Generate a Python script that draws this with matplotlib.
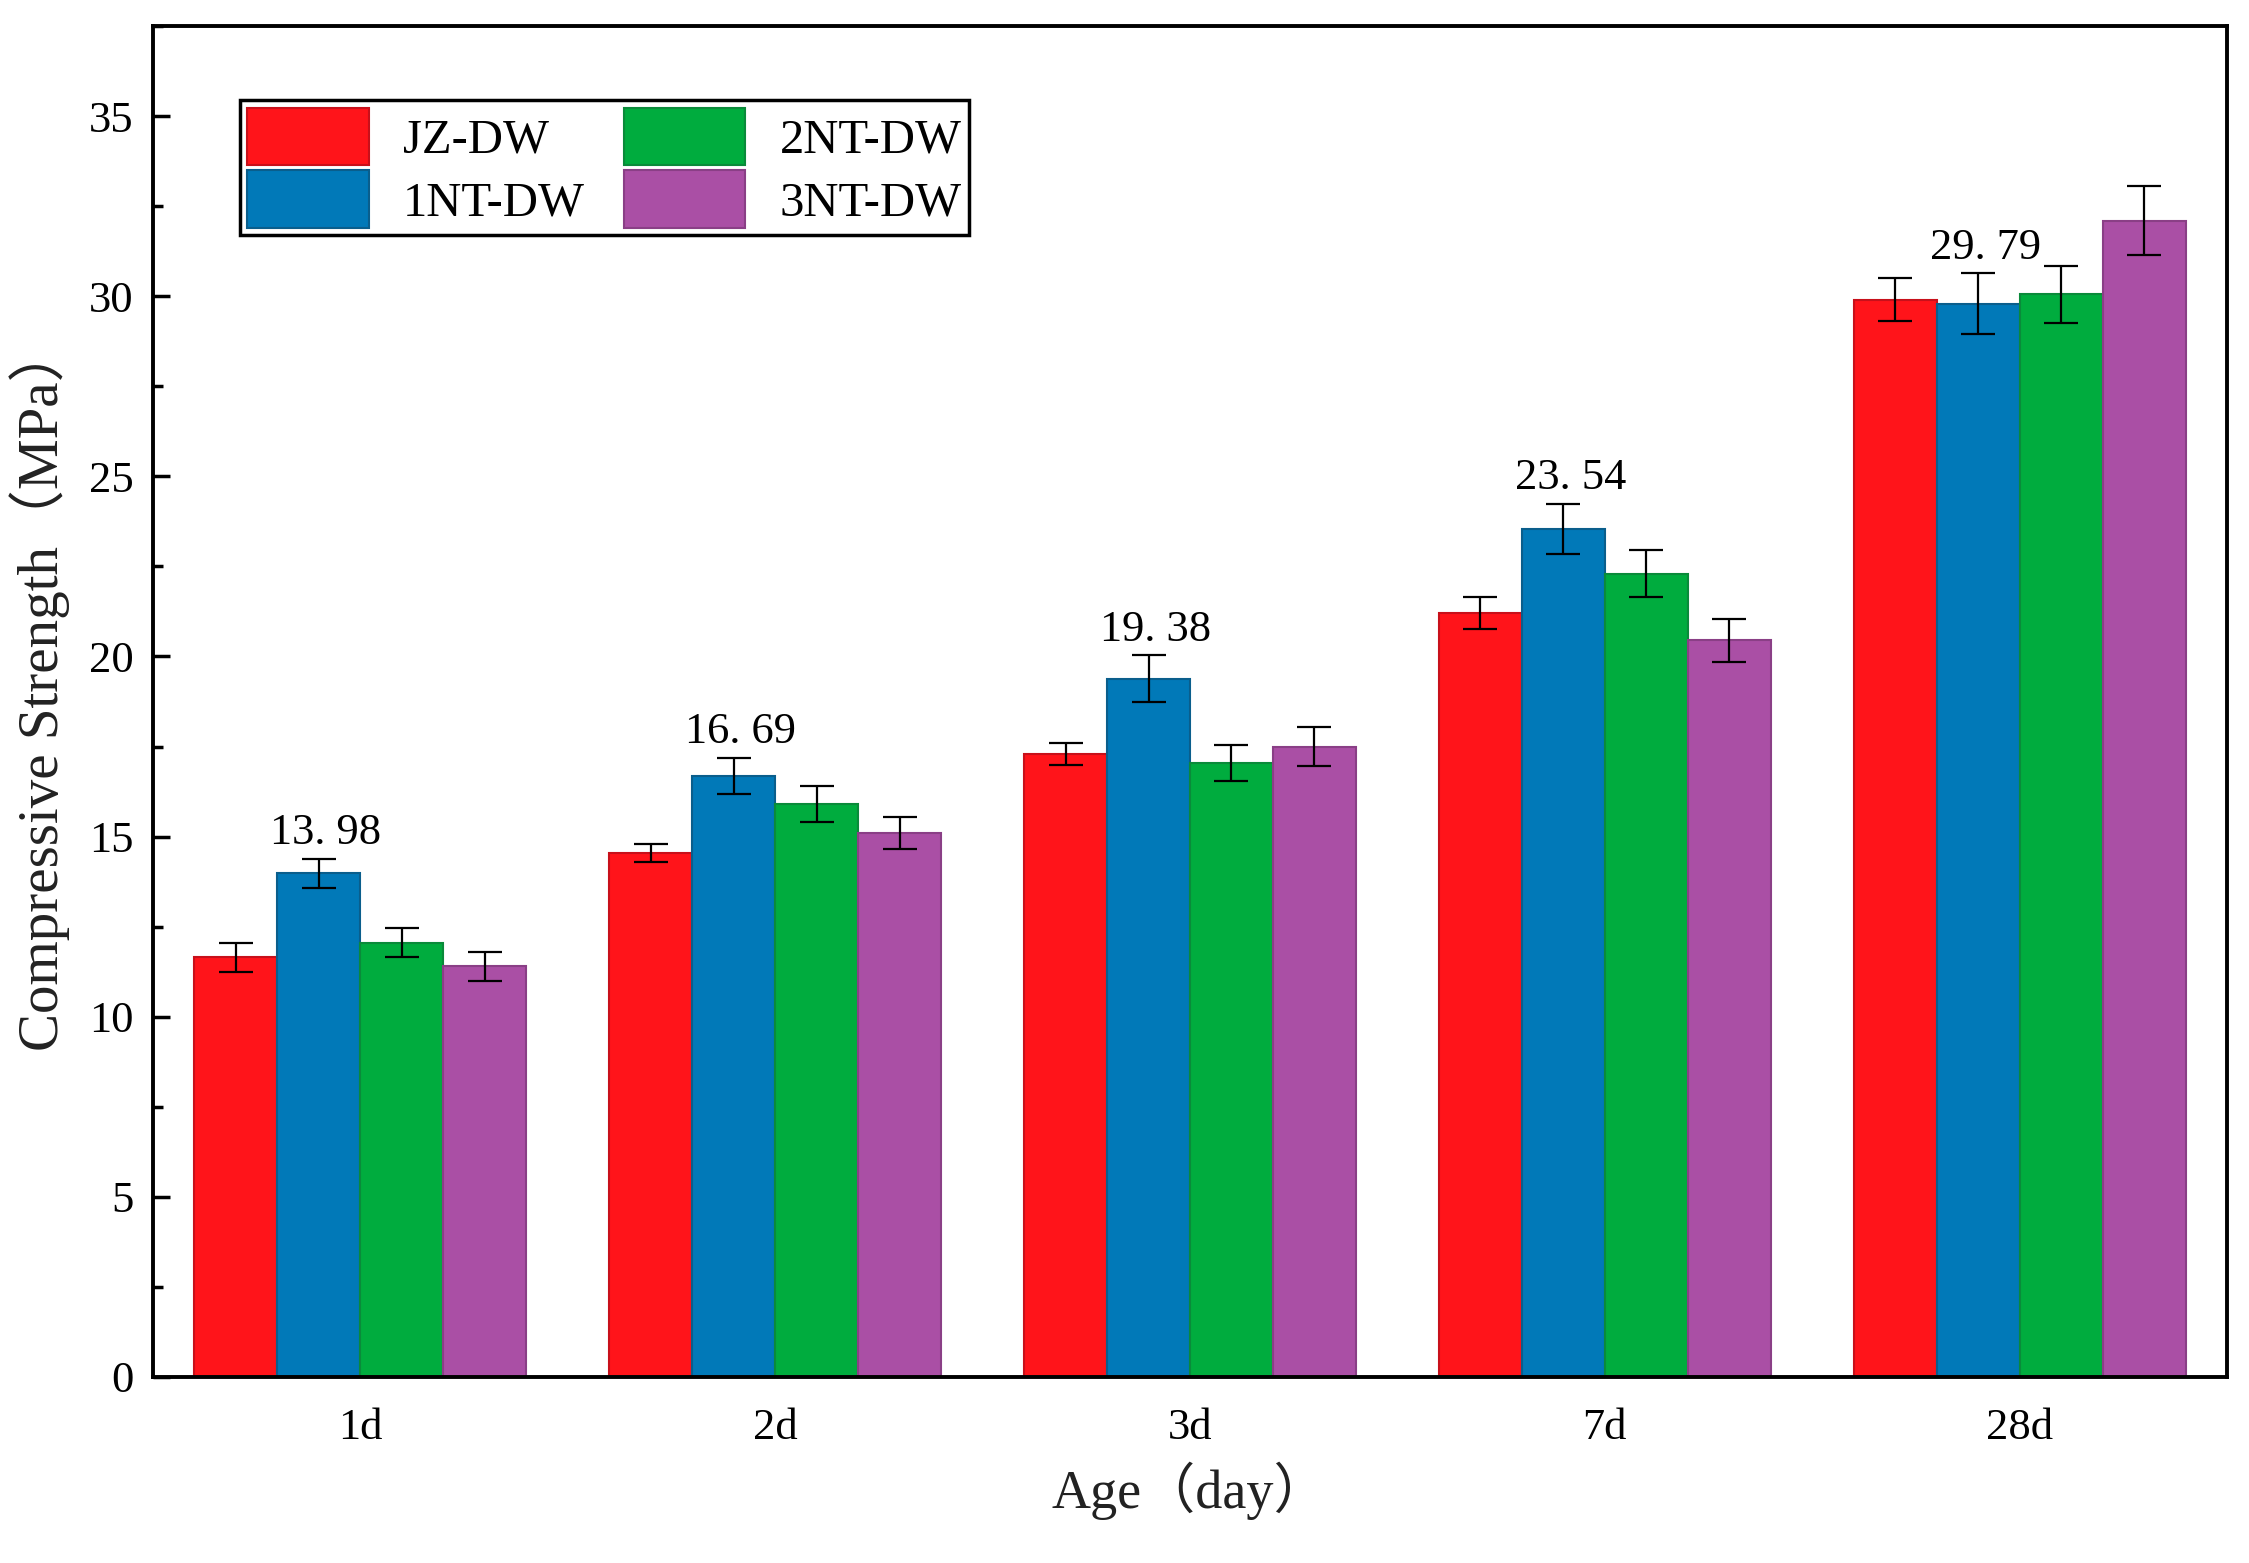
import numpy as np
import matplotlib
matplotlib.use("Agg")
import matplotlib.pyplot as plt
from matplotlib.ticker import MultipleLocator

plt.rcParams['font.family'] = ['Liberation Serif', 'Noto Sans CJK SC', 'DejaVu Sans']

ages = ["1d", "2d", "3d", "7d", "28d"]
series = ["JZ-DW", "1NT-DW", "2NT-DW", "3NT-DW"]
jz = [11.65, 14.55, 17.30, 21.20, 29.90]
nt1 = [13.98, 16.69, 19.38, 23.54, 29.79]
nt2 = [12.05, 15.90, 17.05, 22.30, 30.05]
nt3 = [11.40, 15.10, 17.50, 20.45, 32.10]
jz_err = [0.40, 0.25, 0.30, 0.45, 0.60]
nt1_err = [0.40, 0.50, 0.65, 0.70, 0.85]
nt2_err = [0.40, 0.50, 0.50, 0.65, 0.80]
nt3_err = [0.40, 0.45, 0.55, 0.60, 0.95]
colors = ["#FF141A", "#0179B8", "#00AC3E", "#AA4FA5"]
edges = ["#C8101A", "#0A5E8C", "#0A8A3A", "#8A3F86"]

values = [jz, nt1, nt2, nt3]
errors = [jz_err, nt1_err, nt2_err, nt3_err]

W, H = 2249, 1563
fig = plt.figure(figsize=(W / 100, H / 100), dpi=100)
ax = fig.add_axes([153 / W, 1 - 1377 / H, (2227 - 153) / W, (1377 - 26) / H])

x = np.arange(len(ages))
bw = 0.2
for i, (name, vals, errs) in enumerate(zip(series, values, errors)):
    pos = x + (i - 1.5) * bw
    ax.bar(pos, vals, width=bw, color=colors[i], edgecolor=edges[i], linewidth=1.5,
           label=name, zorder=2)
    ax.errorbar(pos, vals, yerr=errs, fmt='none', ecolor='black', elinewidth=1.6,
                capsize=12, capthick=1.6, zorder=3)

# value labels above 1NT-DW bars
pos1 = x - 0.5 * bw
for xi, v, e in zip(pos1, nt1, nt1_err):
    ax.annotate(f"{v:.2f}".replace(".", ". "), xy=(xi, v + e), xytext=(5, 4),
                textcoords='offset points', ha='center', va='bottom', fontsize=32)

ax.set_xlim(-0.5, 4.5)
ax.set_ylim(0, 37.5)
ax.set_xticks(x)
ax.set_xticklabels(ages)
ax.yaxis.set_major_locator(MultipleLocator(5))
ax.yaxis.set_minor_locator(MultipleLocator(2.5))
ax.tick_params(axis='y', which='major', direction='in', length=12, width=2.5,
               labelsize=32, pad=14)
ax.tick_params(axis='y', which='minor', direction='in', length=7, width=2.5)
ax.tick_params(axis='x', which='both', length=0, labelsize=32, pad=22)

for s in ax.spines.values():
    s.set_linewidth(2.8)
    s.set_color('black')

ax.set_ylabel("Compressive Strength（MPa）", fontsize=41, color='#222222')
ax.yaxis.set_label_coords(-0.040, 0.51)
ax.set_xlabel("Age（day）", fontsize=39, labelpad=10, color='#222222')

leg = ax.legend(ncol=2, loc='upper left', bbox_to_anchor=(0.042, 0.945),
                borderaxespad=0, fontsize=35, frameon=True, fancybox=False,
                edgecolor='black', handlelength=2.5, handleheight=1.45,
                labelspacing=0.1, columnspacing=0.8, handletextpad=0.7,
                borderpad=0.15)
leg.get_frame().set_linewidth(2.5)
leg.get_frame().set_alpha(1)

fig.savefig("out.png", dpi=100)
